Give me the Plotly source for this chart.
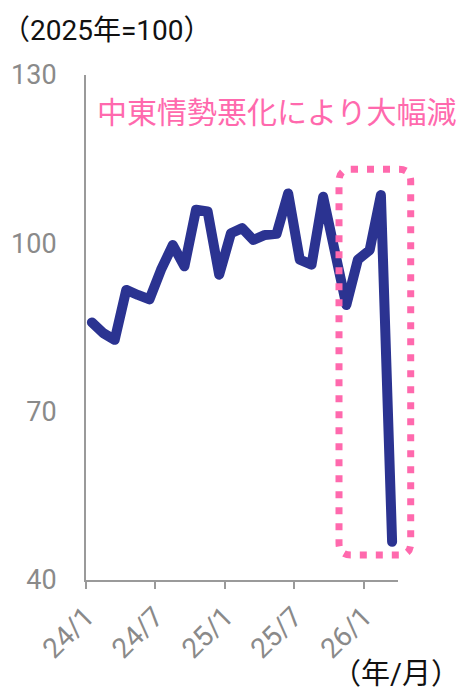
import plotly.graph_objects as go

# Monthly index (2025 average = 100), Jan 2024 - Mar 2026
months = [
    "2024-01", "2024-02", "2024-03", "2024-04", "2024-05", "2024-06",
    "2024-07", "2024-08", "2024-09", "2024-10", "2024-11", "2024-12",
    "2025-01", "2025-02", "2025-03", "2025-04", "2025-05", "2025-06",
    "2025-07", "2025-08", "2025-09", "2025-10", "2025-11", "2025-12",
    "2026-01", "2026-02", "2026-03",
]
index_values = [
    85.9, 84.0, 82.8, 91.7, 90.8, 90.0,
    95.3, 99.7, 95.9, 106.0, 105.7, 94.4,
    101.8, 102.7, 100.6, 101.5, 101.7, 108.9,
    97.1, 96.2, 108.3, 98.5, 89.0, 97.1,
    98.8, 108.6, 46.8,
]
y_ticks = [40, 70, 100, 130]

unit_label = "（2025年=100）"
axis_label = "（年/月）"
note_text = "中東情勢悪化により大幅減"

LINE_COLOR = "#2b3391"
PINK = "#ff69ad"
AXIS_GRAY = "#9a9a9a"
TICK_GRAY = "#8a8a8a"
FONT = "Roboto, 'Noto Sans CJK JP', sans-serif"

W, H = 464, 692
ML, MR, MT, MB = 86, 66, 75, 112
PW, PH = W - ML - MR, H - MT - MB


def px_x(px):
    return (px - ML) / PW


def px_y(py):
    return (H - MB - py) / PH


fig = go.Figure(
    go.Scatter(
        x=months,
        y=index_values,
        xperiod="M1",
        xperiodalignment="middle",
        mode="lines",
        line=dict(color=LINE_COLOR, width=10),
        hoverinfo="skip",
    )
)

# dotted rounded frame around the latest months
left, right, top, bottom, r = 339, 410.7, 169.3, 555, 12
pts = [
    ("M", left + r, top), ("L", right - r, top),
    ("Q", right, top, right, top + r), ("L", right, bottom - r),
    ("Q", right, bottom, right - r, bottom), ("L", left + r, bottom),
    ("Q", left, bottom, left, bottom - r), ("L", left, top + r),
    ("Q", left, top, left + r, top),
]
path = ""
for p in pts:
    cmd, coords = p[0], p[1:]
    xy = []
    for i in range(0, len(coords), 2):
        xy.append(f"{px_x(coords[i]):.5f},{px_y(coords[i + 1]):.5f}")
    path += cmd + " ".join(xy) + " "
path += "Z"

fig.add_shape(
    type="path",
    path=path,
    xref="paper",
    yref="paper",
    line=dict(color=PINK, width=7, dash="7px,9px"),
    layer="above",
)

fig.add_annotation(
    text=note_text, xref="paper", yref="paper",
    x=px_x(95), y=px_y(113), xanchor="left", yanchor="middle",
    showarrow=False, font=dict(family=FONT, size=30, color=PINK),
)
fig.add_annotation(
    text=unit_label, xref="paper", yref="paper",
    x=px_x(0), y=px_y(31), xanchor="left", yanchor="middle",
    showarrow=False, font=dict(family=FONT, size=28, color="#111111"),
)
fig.add_annotation(
    text=axis_label, xref="paper", yref="paper",
    x=px_x(396), y=px_y(674), xanchor="center", yanchor="middle",
    showarrow=False, font=dict(family=FONT, size=29, color="#111111"),
)

fig.update_layout(
    width=W, height=H,
    margin=dict(l=ML, r=MR, t=MT, b=MB, pad=0),
    paper_bgcolor="white", plot_bgcolor="white",
    showlegend=False,
    font=dict(family=FONT),
    xaxis=dict(
        type="date",
        range=["2024-01-01", "2026-04-01"],
        tick0="2024-01-01", dtick="M6", tickformat="%y/%-m",
        tickangle=-45,
        showgrid=False, zeroline=False,
        showline=True, linecolor=AXIS_GRAY, linewidth=2,
        ticks="outside", ticklen=7, tickwidth=2, tickcolor=AXIS_GRAY,
        tickfont=dict(family=FONT, size=28, color=TICK_GRAY),
        automargin=False, fixedrange=True,
    ),
    yaxis=dict(
        range=[40, 130], tickvals=y_ticks,
        showgrid=False, zeroline=False,
        showline=True, linecolor=AXIS_GRAY, linewidth=2,
        ticks="", ticklabelstandoff=22,
        tickfont=dict(family=FONT, size=27, color=TICK_GRAY),
        automargin=False, fixedrange=True,
    ),
)

post = (
    "var gd=document.getElementById('{plot_id}');"
    "function roundLines(){gd.querySelectorAll('path.js-line').forEach(function(p){"
    "p.style.strokeLinecap='round';p.style.strokeLinejoin='round';});}"
    "roundLines();gd.on('plotly_afterplot',roundLines);"
)

fig.write_html("out.html", post_script=post, config={"displayModeBar": False})
